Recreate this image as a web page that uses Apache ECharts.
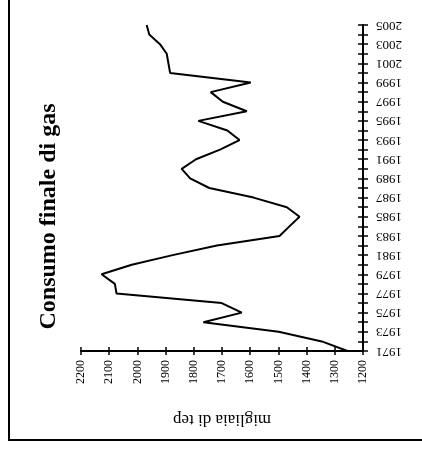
<!DOCTYPE html>
<html>
<head>
<meta charset="utf-8">
<style>
  html, body { margin: 0; padding: 0; background: #fff; }
  #chart { width: 422px; height: 451px; }
</style>
<script src="https://cdn.jsdelivr.net/npm/echarts@6/dist/echarts.min.js"></script>
</head>
<body>
<div id="chart"></div>
<script>
// Final gas consumption in Italy, thousand toe, 1971-2005
const years = ['1971','1972','1973','1974','1975','1976','1977','1978','1979','1980',
  '1981','1982','1983','1984','1985','1986','1987','1988','1989','1990',
  '1991','1992','1993','1994','1995','1996','1997','1998','1999','2000',
  '2001','2002','2003','2004','2005'];
const consumption = [1255, 1346, 1499, 1766, 1630, 1701, 2074, 2080, 2127, 2020,
  1875, 1718, 1496, 1461, 1425, 1470, 1588, 1745, 1813, 1843,
  1792, 1707, 1638, 1681, 1784, 1612, 1697, 1740, 1598, 1884,
  1890, 1896, 1920, 1958, 1967];
const chartTitle = 'Consumo finale di gas';
const valueName = 'migliaia di tep';
const valueMin = 1200, valueMax = 2200, valueStep = 100;

const serif = 'Liberation Serif, Times New Roman, serif';
const chart = echarts.init(document.getElementById('chart'), null, { renderer: 'canvas' });

const valueAxisBase = {
  type: 'value', position: 'bottom', inverse: true,
  min: valueMin, max: valueMax, interval: valueStep,
  splitLine: { show: false }
};
const yearAxisBase = {
  type: 'category', position: 'right', data: years, boundaryGap: false,
  splitLine: { show: false }
};

chart.setOption({
  animation: false,
  backgroundColor: '#fff',
  grid: { left: 81, right: 59, top: 25, bottom: 100, containLabel: false },
  xAxis: [
    Object.assign({}, valueAxisBase, {
      axisLine: { show: true, lineStyle: { color: '#000', width: 2 } },
      axisTick: { show: true, length: 4, lineStyle: { color: '#000', width: 1.5 } },
      axisLabel: {
        show: true, rotate: 90, margin: 9, color: '#000', fontFamily: serif, fontSize: 12,
        formatter: (v) => String(v)
      },
      name: valueName, nameLocation: 'middle', nameRotate: 180, nameGap: 60,
      nameTextStyle: { color: '#000', fontFamily: serif, fontSize: 17 }
    }),
    Object.assign({}, valueAxisBase, {
      axisLine: { show: false },
      axisTick: { show: true, inside: true, length: 4, lineStyle: { color: '#000', width: 1.5 } },
      axisLabel: { show: false }
    })
  ],
  yAxis: [
    Object.assign({}, yearAxisBase, {
      axisLine: { show: true, lineStyle: { color: '#000', width: 2 } },
      axisTick: { show: true, length: 5, interval: 0, lineStyle: { color: '#000', width: 1.5 } },
      axisLabel: { show: true, interval: 1, rotate: 180, margin: 13, color: '#000', fontFamily: serif, fontSize: 13 }
    }),
    Object.assign({}, yearAxisBase, {
      axisLine: { show: false },
      axisTick: { show: true, inside: true, length: 5, interval: 0, lineStyle: { color: '#000', width: 1.5 } },
      axisLabel: { show: false }
    })
  ],
  series: [{
    type: 'line',
    xAxisIndex: 0,
    yAxisIndex: 0,
    data: consumption.map((v, i) => [v, years[i]]),
    showSymbol: false,
    lineStyle: { color: '#000', width: 2 },
    itemStyle: { color: '#000' }
  }],
  graphic: [
    {
      type: 'text', x: 49, y: 216.5, rotation: Math.PI / 2,
      style: { text: chartTitle, fill: '#000', font: 'bold 24px ' + serif, align: 'center', verticalAlign: 'middle' }
    },
    { type: 'line', shape: { x1: 9, y1: 0, x2: 9, y2: 440 }, style: { stroke: '#000', lineWidth: 2 } },
    { type: 'line', shape: { x1: 8, y1: 440, x2: 422, y2: 440 }, style: { stroke: '#000', lineWidth: 2 } }
  ]
});
</script>
</body>
</html>
